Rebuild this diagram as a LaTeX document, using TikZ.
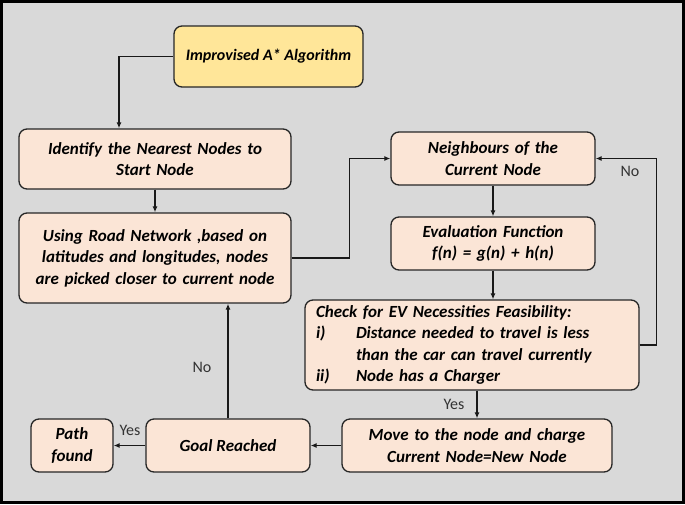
\documentclass[tikz,border=0pt]{standalone}
\usepackage{fontspec}
\setmainfont{Carlito}
\usetikzlibrary{arrows.meta}

\definecolor{panelgray}{HTML}{D9D9D9}
\definecolor{titlefill}{HTML}{FFE699}
\definecolor{stepfill}{HTML}{FBE5D6}
\definecolor{labelgray}{HTML}{333333}

\begin{document}
\begin{tikzpicture}[x=1pt, y=-1pt,
	stepbox/.style={draw=black!85, line width=1.3pt, rounded corners=8pt, fill=stepfill,
		font=\fontsize{17}{21.5}\selectfont\bfseries\itshape, align=center, inner sep=2pt},
	flow/.style={-{Latex[length=6pt,width=5pt]}, line width=1.2pt, black!90},
	answer/.style={font=\fontsize{16}{18}\selectfont, text=labelgray}]

	% panel
	\useasboundingbox (0,0) rectangle (685,504);
	\draw[fill=panelgray, line width=2.5pt] (1.5,1.5) rectangle (683.5,502.5);

	\node[stepbox, fill=titlefill, minimum width=189pt, minimum height=61pt,
		font=\fontsize{16}{20}\selectfont\bfseries\itshape] (title) at (268.5,56.5)
		{Improvised A* Algorithm};
	
	\node[stepbox, minimum width=272pt, minimum height=60pt, text width=266pt] (nearest) at (155,159)
		{Identify the Nearest Nodes to\\Start Node};
	
	\node[stepbox, minimum width=272pt, minimum height=90pt, text width=266pt] (road) at (155,258)
		{Using Road Network ,based on\\latitudes and longitudes, nodes\\are picked closer to current node};
	
	\node[stepbox, minimum width=204pt, minimum height=53pt, text width=198pt] (neigh) at (493,158.5)
		{Neighbours of the\\Current Node};
	
	\node[stepbox, minimum width=204pt, minimum height=53pt, text width=198pt] (evalf) at (493,243.5)
		{Evaluation Function\\f(n) = g(n) + h(n)};
	
	\node[stepbox, minimum width=334pt, minimum height=90pt, text width=312pt, align=left] (check) at (472,345)
		{Check for EV Necessities Feasibility:\\
		\makebox[40pt][l]{i)}Distance needed to travel is less\\
		\hspace*{40pt}than the car can travel currently\\
		\makebox[40pt][l]{ii)}Node has a Charger};
	
	\node[stepbox, minimum width=270pt, minimum height=53pt, text width=264pt] (move) at (477,445.5)
		{Move to the node and charge\\Current Node=New Node};
	
	\node[stepbox, minimum width=164pt, minimum height=53pt] (goal) at (228,445.5)
		{Goal Reached};
	
	\node[stepbox, minimum width=82pt, minimum height=53pt] (path) at (72,445.5)
		{Path\\found};

	% connectors
	\draw[flow] (title.west) -| ([xshift=-36pt]nearest.north);
	\draw[flow] (nearest) -- (road);
	\draw[flow] (road.east) -- ++(58,0) |- (neigh.west);
	\draw[flow] (neigh) -- (evalf);
	\draw[flow] (evalf.south) -- (evalf.south |- check.north);
	\draw[flow] (check.east) -- ++(17,0) |- (neigh.east);
	\draw[flow] (check.south -| move.north) -- (move.north);
	\draw[flow] (move) -- (goal);
	\draw[flow] (goal) -- (path);
	\draw[flow] (goal.north) -- (goal.north |- road.south);

	\node[answer] (no1) at (630,171) {No};
	\node[answer] (yes1) at (454,404) {Yes};
	\node[answer] (yes2) at (130,430) {Yes};
	\node[answer] (no2) at (202,367) {No};

\end{tikzpicture}
\end{document}
